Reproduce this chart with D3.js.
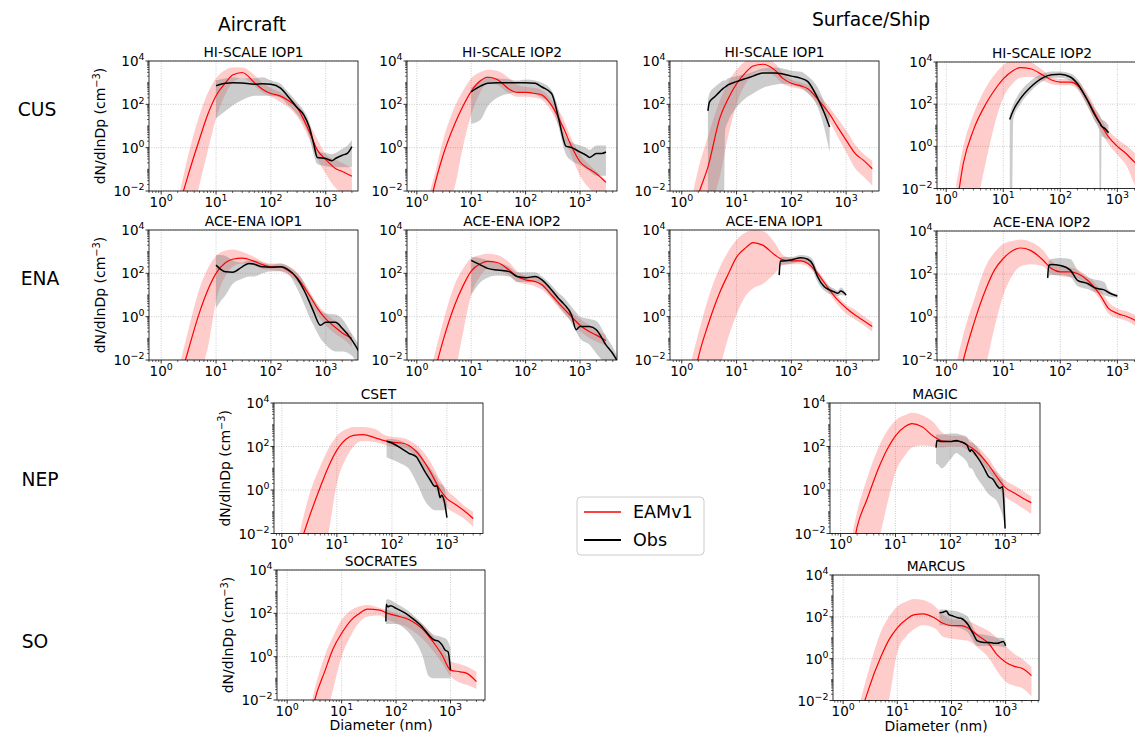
<!DOCTYPE html>
<html>
<head>
<meta charset="utf-8">
<script src="https://cdn.jsdelivr.net/npm/d3@7"></script>
<style>
  body { margin: 0; background: #fff; }
  svg { display: block; font-family: "DejaVu Sans", sans-serif; }
</style>
</head>
<body>
<svg id="chart" width="1135" height="737"></svg>
<script>
// model size grid (nm), shared by all EAMv1 curves
var modelDp = [1.5, 2, 3, 5, 7, 10, 15, 20, 30, 50, 70, 100, 150, 200, 300, 500, 700, 1000, 1500, 2000, 3000];

// ---- aircraft, HI-SCALE IOP1
var hsAir1ModelMed = [3.2e-5, 1e-3, 4e-2, 2.5, 32, 250, 1000, 2240, 2950, 1000, 500, 316, 240, 158, 71, 5.6, 0.79, 0.28, 0.11, 0.079, 0.048];
var hsAir1ModelLo = [1e-7, 1e-6, 1e-4, 2e-2, 0.63, 22, 316, 1000, 1580, 708, 355, 224, 126, 79, 28, 2.5, 0.32, 0.063, 0.014, 0.0079, 0.005];
var hsAir1ModelHi = [6.3e-4, 4e-3, 0.32, 32, 316, 1580, 3980, 5010, 5010, 2240, 1000, 562, 355, 224, 100, 12.6, 2.5, 0.5, 0.28, 0.2, 0.107];
var hsAir1ObsDp = [10, 15, 20, 30, 50, 70, 100, 150, 200, 300, 400, 500, 600, 700, 1000, 1300, 1500, 2000, 2500, 3000];
var hsAir1ObsMed = [724, 933, 1000, 955, 851, 891, 851, 562, 251, 71, 32, 8.9, 1.6, 0.355, 0.316, 0.25, 0.316, 0.447, 0.562, 1.12];
var hsAir1ObsHi = [1260, 1580, 1780, 1580, 1580, 1780, 1260, 891, 398, 126, 50, 15.8, 2.5, 0.71, 0.56, 0.5, 0.56, 0.89, 1.26, 2.24];
var hsAir1ObsLo = [22, 50, 89, 158, 251, 251, 251, 200, 100, 35, 12.6, 3.16, 0.5, 0.178, 0.141, 0.126, 0.126, 0.126, 0.126, 0.126];

// ---- aircraft, HI-SCALE IOP2
var hsAir2ModelMed = [3.2e-4, 1e-2, 0.4, 12.6, 79, 398, 1260, 1780, 1410, 501, 355, 355, 316, 269, 89, 7.9, 1.12, 0.224, 0.1, 0.063, 0.025];
var hsAir2ModelLo = [1e-6, 1e-4, 1e-3, 1.6e-2, 1, 32, 398, 1000, 794, 316, 224, 224, 200, 158, 45, 3.16, 0.4, 0.05, 0.0126, 0.0063, 0.0032];
var hsAir2ModelHi = [3.2e-3, 3.2e-2, 2.0, 79, 398, 1580, 3160, 3980, 3550, 1580, 794, 631, 562, 447, 158, 20, 2.5, 0.5, 0.158, 0.079, 0.032];
var hsAir2ObsDp = [10, 15, 20, 30, 50, 70, 100, 150, 200, 300, 400, 500, 550, 700, 1000, 1300, 1500, 2000, 2500, 3000];
var hsAir2ObsMed = [380, 708, 933, 1000, 1000, 1000, 1000, 933, 631, 316, 25, 2.24, 1.17, 1.0, 0.63, 0.447, 0.355, 0.537, 0.537, 0.63];
var hsAir2ObsHi = [562, 1410, 2000, 1580, 1410, 1260, 1410, 1260, 1000, 447, 63, 5.6, 3.16, 1.78, 1.26, 1.0, 0.79, 1.26, 1.26, 1.26];
var hsAir2ObsLo = [12.6, 20, 79, 200, 316, 355, 355, 282, 200, 79, 10, 1.0, 0.5, 0.251, 0.158, 0.1, 0.079, 0.05, 0.05, 0.05];

// ---- surface, HI-SCALE IOP1
var hsSfc1ModelMed = [3.2e-4, 6.3e-3, 0.126, 25, 178, 891, 3160, 5890, 7080, 3800, 1580, 933, 708, 525, 178, 35, 8.9, 2.24, 0.5, 0.28, 0.107];
var hsSfc1ModelLo = [1e-6, 1e-4, 1e-3, 5e-2, 3.16, 100, 1000, 2240, 3550, 2000, 891, 631, 501, 355, 100, 15.8, 3.16, 0.63, 0.1, 0.05, 0.0178];
var hsSfc1ModelHi = [4e-3, 0.1, 3.16, 158, 1000, 3980, 1e4, 1.26e4, 1.26e4, 7940, 2820, 1410, 1000, 794, 316, 71, 22, 6.3, 1.26, 0.56, 0.25];
var hsSfc1ObsDp = [3, 3.2, 4, 5, 5.8, 6.2, 7, 10, 15, 20, 30, 50, 70, 100, 150, 200, 300, 400, 500];
var hsSfc1ObsMed = [50, 126, 224, 398, 562, 631, 794, 1120, 1580, 2000, 2820, 2820, 2510, 2000, 1580, 1120, 200, 40, 8.9];
var hsSfc1ObsHi = [158, 316, 631, 1000, 1260, 1260, 1580, 2000, 2510, 3160, 4470, 5010, 4470, 3550, 3160, 2000, 631, 126, 32];
var hsSfc1ObsLo = [1e-4, 1e-4, 1e-4, 1e-4, 1e-4, 6.3, 15.8, 71, 200, 316, 562, 794, 891, 794, 562, 316, 79, 7.9, 0.63];

// ---- surface, HI-SCALE IOP2
var hsSfc2ModelMed = [1e-3, 0.158, 5.9, 107, 457, 1580, 3980, 5370, 4790, 2340, 1410, 1120, 1120, 794, 158, 12.6, 2.82, 1.0, 0.4, 0.178, 0.079];
var hsSfc2ModelLo = [1e-6, 1e-5, 3.2e-4, 0.2, 10, 200, 1000, 1780, 2000, 1260, 891, 794, 794, 501, 79, 5.6, 1.26, 0.4, 0.1, 0.0158, 0.0032];
var hsSfc2ModelHi = [1.6e-2, 1, 32, 631, 2510, 7080, 1.26e4, 1.26e4, 1e4, 3980, 2000, 1580, 1580, 1260, 316, 25, 5.6, 2.24, 1.0, 0.5, 0.158];
var hsSfc2ObsDp = [13, 14, 15, 20, 30, 50, 70, 100, 150, 200, 300, 400, 480, 495, 515, 530, 600, 700];
var hsSfc2ObsMed = [18.6, 32, 50, 182, 631, 1820, 2510, 2630, 1950, 933, 151, 32, 14.1, 12.6, 10, 9, 7.1, 4.37];
var hsSfc2ObsHi = [32, 63, 100, 398, 1260, 2820, 3550, 3550, 2820, 1580, 251, 63, 32, 28, 22, 20, 15.8, 10];
var hsSfc2ObsLo = [1e-4, 1e-4, 20, 100, 398, 1260, 1780, 1780, 1260, 562, 79, 15.8, 6, 1e-4, 1e-4, 3, 2.5, 2.0];

// ---- aircraft, ACE-ENA IOP1
var enaAir1ModelMed = [1e-5, 5e-4, 2e-2, 1.58, 15.8, 100, 316, 447, 501, 355, 251, 200, 200, 141, 63, 10, 2.5, 0.79, 0.316, 0.178, 0.1];
var enaAir1ModelLo = [1e-7, 1e-6, 1e-4, 2.5e-3, 3.2e-2, 5, 79, 200, 282, 224, 158, 141, 126, 89, 40, 5.6, 1.26, 0.4, 0.158, 0.1, 0.04];
var enaAir1ModelHi = [1e-4, 2.5e-3, 0.158, 20, 158, 631, 1120, 1260, 1000, 562, 355, 282, 282, 224, 112, 15.8, 3.98, 1.41, 0.63, 0.316, 0.158];
var enaAir1ObsDp = [10, 12, 15, 20, 30, 40, 50, 70, 100, 150, 200, 300, 400, 500, 600, 800, 1000, 1500, 2000, 3000, 4000, 5000];
var enaAir1ObsMed = [240, 158, 117, 112, 200, 288, 263, 200, 191, 200, 158, 59, 17, 5, 1.7, 0.4, 0.55, 0.55, 0.29, 0.083, 0.025, 0.0079];
var enaAir1ObsHi = [708, 708, 631, 398, 316, 398, 398, 316, 251, 282, 224, 100, 40, 12.6, 6.3, 2.0, 1.41, 1.26, 0.79, 0.158, 0.05, 0.0158];
var enaAir1ObsLo = [2.5, 5, 10, 32, 56, 71, 71, 100, 126, 126, 100, 20, 3.98, 1.0, 0.4, 0.1, 0.05, 0.025, 0.025, 0.0158, 0.005, 0.0032];

// ---- aircraft, ACE-ENA IOP2
var enaAir2ModelMed = [1e-4, 1.6e-3, 7.1e-2, 3.55, 25, 126, 282, 355, 316, 141, 71, 50, 41.7, 30, 10, 2.4, 1.0, 0.4, 0.2, 0.141, 0.079];
var enaAir2ModelLo = [1e-7, 1e-6, 1e-4, 2.5e-3, 0.158, 10, 79, 158, 141, 79, 40, 32, 25, 17.8, 6.3, 1.41, 0.63, 0.224, 0.1, 0.071, 0.045];
var enaAir2ModelHi = [6.3e-4, 1e-2, 0.5, 32, 158, 501, 708, 794, 708, 316, 126, 79, 71, 56, 20, 3.98, 1.58, 0.79, 0.4, 0.25, 0.141];
var enaAir2ObsDp = [10, 15, 20, 30, 50, 70, 100, 150, 200, 300, 400, 500, 700, 850, 1000, 1500, 2000, 3000, 4000, 5000];
var enaAir2ObsMed = [398, 240, 170, 141, 120, 71, 63, 71, 50, 17, 7.1, 4, 1.2, 0.25, 0.355, 0.355, 0.25, 0.05, 0.02, 0.0079];
var enaAir2ObsHi = [562, 501, 398, 316, 200, 112, 112, 112, 71, 28, 12.6, 7.9, 2.82, 1.58, 1.0, 0.79, 0.63, 0.126, 0.04, 0.0126];
var enaAir2ObsLo = [10, 40, 63, 79, 71, 40, 40, 40, 25, 7.9, 3.16, 1.58, 0.5, 0.2, 0.1, 0.05, 0.02, 0.0063, 0.004, 0.0032];

// ---- surface, ACE-ENA IOP1
var enaSfc1ModelMed = [3.2e-4, 1.26e-2, 0.4, 14.1, 89, 562, 1580, 2630, 2000, 708, 417, 372, 372, 282, 100, 17, 5.9, 2.5, 1.12, 0.71, 0.355];
var enaSfc1ModelLo = [1e-7, 1e-6, 3.2e-4, 5e-3, 0.1, 1.26, 10, 20, 32, 100, 240, 263, 263, 200, 71, 11.2, 3.55, 1.41, 0.71, 0.447, 0.2];
var enaSfc1ModelHi = [1e-2, 0.158, 6.3, 200, 1000, 3550, 7940, 1e4, 8910, 2510, 708, 525, 525, 398, 141, 25, 8.9, 3.55, 2.0, 1.12, 0.56];
var enaSfc1ObsDp = [60, 63, 70, 100, 150, 200, 250, 300, 400, 500, 600, 700, 800, 1000];
var enaSfc1ObsMed = [83, 372, 372, 417, 525, 447, 240, 71, 24, 17, 14.1, 12, 15.1, 10];
var enaSfc1ObsHi = [158, 562, 562, 562, 708, 631, 398, 126, 40, 25, 20, 15.8, 22, 11.2];
var enaSfc1ObsLo = [63, 251, 251, 282, 355, 282, 126, 40, 15.8, 11.2, 10, 8.9, 10, 8.9];

// ---- surface, ACE-ENA IOP2
var enaSfc2ModelMed = [3.2e-4, 1e-2, 0.43, 21, 151, 525, 1260, 1620, 1260, 437, 178, 126, 126, 105, 51, 10.5, 2.5, 1.48, 1.02, 0.72, 0.316];
var enaSfc2ModelLo = [1e-7, 1e-6, 3.2e-4, 6.3e-3, 0.316, 10, 100, 224, 282, 224, 100, 79, 71, 63, 32, 6.3, 1.41, 0.89, 0.63, 0.4, 0.158];
var enaSfc2ModelHi = [6.3e-3, 0.158, 5, 251, 1000, 2510, 3550, 3980, 3160, 1260, 398, 224, 200, 158, 79, 20, 5, 2.5, 1.78, 1.26, 0.5];
var enaSfc2ObsDp = [60, 63, 70, 100, 150, 200, 300, 400, 500, 600, 700, 1000];
var enaSfc2ObsMed = [66, 251, 275, 251, 151, 51, 36, 23, 20, 17.8, 13.8, 9.5];
var enaSfc2ObsHi = [126, 398, 501, 562, 501, 158, 71, 56, 50, 40, 17.8, 11.2];
var enaSfc2ObsLo = [50, 79, 89, 89, 71, 28, 20, 14.1, 12.6, 10, 8.9, 7.9];

// ---- aircraft, CSET
var csetModelMed = [1e-4, 1.6e-3, 4e-2, 1.38, 11.5, 68, 229, 324, 355, 251, 191, 158, 145, 115, 47, 6.8, 1.38, 0.4, 0.2, 0.117, 0.049];
var csetModelLo = [1e-7, 1e-6, 1e-5, 3.2e-4, 1e-2, 2, 32, 100, 178, 158, 126, 100, 89, 71, 25, 3.16, 0.63, 0.158, 0.079, 0.05, 0.02];
var csetModelHi = [3.2e-4, 6.3e-3, 0.4, 12.6, 79, 316, 631, 794, 794, 631, 355, 282, 251, 200, 100, 20, 4, 1.0, 0.4, 0.2, 0.1];
var csetObsDp = [80, 100, 150, 200, 280, 300, 400, 500, 600, 650, 700, 750, 800, 900, 1000];
var csetObsMed = [174, 145, 79, 50, 33, 25, 6.8, 2.82, 1.48, 1.58, 0.98, 0.447, 0.575, 0.28, 0.054];
var csetObsHi = [224, 224, 178, 112, 71, 63, 20, 10, 5, 3.98, 2.5, 2.0, 1.78, 1.26, 0.25];
var csetObsLo = [32, 25, 15.8, 10, 2.24, 1.58, 0.316, 0.158, 0.117, 0.117, 0.117, 0.117, 0.117, 0.117, 0.117];

// ---- ship, MAGIC
var magicModelMed = [3.2e-4, 2e-2, 0.347, 11.2, 71, 309, 832, 1120, 832, 288, 182, 170, 170, 120, 59, 14.1, 4.17, 1.32, 0.71, 0.457, 0.263];
var magicModelLo = [1e-7, 1e-6, 1e-4, 5e-3, 0.2, 6.3, 40, 89, 112, 100, 89, 100, 100, 71, 32, 7.1, 2.0, 0.5, 0.25, 0.158, 0.079];
var magicModelHi = [3.2e-3, 0.1, 3.16, 100, 501, 1580, 2820, 3550, 2820, 1260, 447, 316, 316, 251, 112, 28, 7.9, 2.82, 1.58, 1.0, 0.5];
var magicObsDp = [55, 57, 70, 100, 130, 150, 200, 230, 240, 300, 400, 500, 600, 700, 800, 900, 950, 1000];
var magicObsMed = [89, 191, 170, 170, 191, 170, 120, 59, 71, 37, 12, 4.17, 3.16, 1.7, 1.2, 1.41, 0.24, 0.017];
var magicObsHi = [316, 355, 355, 398, 398, 355, 282, 158, 158, 100, 32, 12.6, 8.9, 6.3, 4, 3.16, 1.58, 0.316];
var magicObsLo = [15.8, 15.8, 10, 25, 50, 40, 20, 10, 10, 4, 1.41, 0.63, 0.447, 0.316, 0.158, 0.063, 0.032, 0.0158];

// ---- aircraft, SOCRATES
var socratesModelMed = [1e-7, 1e-5, 5e-3, 0.24, 2.4, 12, 49, 89, 158, 141, 100, 78, 59, 42, 20, 4.17, 1.2, 0.24, 0.2, 0.17, 0.071];
var socratesModelLo = [1e-9, 1e-8, 1e-6, 1e-3, 3.2e-2, 1, 10, 32, 71, 79, 50, 35, 25, 15.8, 7.1, 1.58, 0.5, 0.126, 0.063, 0.05, 0.032];
var socratesModelHi = [1e-6, 1e-4, 1.6e-2, 1.26, 8.9, 50, 141, 200, 240, 178, 141, 100, 79, 63, 32, 7.9, 2.5, 0.63, 0.447, 0.355, 0.2];
var socratesObsDp = [65, 66, 70, 80, 100, 150, 200, 300, 400, 500, 600, 700, 800, 900, 1000];
var socratesObsMed = [42, 263, 200, 224, 170, 100, 59, 24, 10, 5.9, 5.25, 3.47, 2.0, 1.7, 0.24];
var socratesObsHi = [251, 398, 447, 398, 282, 158, 89, 35, 15.8, 10, 8.9, 7.9, 7.1, 5, 2.5];
var socratesObsLo = [32, 32, 32, 32, 32, 17.8, 7.9, 1.26, 0.126, 0.1, 0.1, 0.1, 0.1, 0.1, 0.1];

// ---- ship, MARCUS
var marcusModelMed = [1e-5, 1e-3, 3.9e-2, 1.26, 7.9, 30, 79, 123, 138, 85, 49, 38, 38, 30, 13.5, 4.9, 1.51, 0.68, 0.417, 0.347, 0.155];
var marcusModelLo = [1e-8, 1e-7, 1e-5, 1e-3, 1e-2, 2, 12.6, 25, 40, 28, 11.2, 8.9, 7.9, 7.1, 3.55, 1, 0.25, 0.079, 0.05, 0.04, 0.0158];
var marcusModelHi = [3.2e-4, 6.3e-3, 0.316, 20, 100, 316, 562, 708, 631, 316, 126, 79, 71, 63, 40, 20, 10, 4, 1.58, 1.0, 0.4];
var marcusObsDp = [60, 70, 80, 90, 100, 130, 150, 200, 250, 300, 400, 500, 600, 700, 800, 900, 1000];
var marcusObsMed = [158, 166, 191, 126, 115, 91, 85, 44, 16.2, 7.1, 6.0, 6.0, 5.5, 5.5, 6.0, 6.6, 4.17];
var marcusObsHi = [224, 224, 224, 200, 200, 178, 158, 100, 32, 15.8, 14.1, 12.6, 11.2, 10, 10, 10, 6.3];
var marcusObsLo = [40, 40, 40, 35, 35, 32, 28, 17.8, 7.1, 4, 4, 4, 4, 4, 3.8, 3.55, 3.55];

var yTicks = [1e-2, 1, 1e2, 1e4];
var xTicks = [1, 10, 100, 1000];

// panel layout: box = [left, top, width, height]
var panels = [
    {title: 'HI-SCALE IOP1', box: [149, 61, 209, 130], xlim: [0.6, 3870], ylab: true,
     m: [hsAir1ModelMed, hsAir1ModelLo, hsAir1ModelHi], o: [hsAir1ObsDp, hsAir1ObsMed, hsAir1ObsLo, hsAir1ObsHi]},
    {title: 'HI-SCALE IOP2', box: [407, 61, 210, 130], xlim: [0.66, 4790],
     m: [hsAir2ModelMed, hsAir2ModelLo, hsAir2ModelHi], o: [hsAir2ObsDp, hsAir2ObsMed, hsAir2ObsLo, hsAir2ObsHi]},
    {title: 'HI-SCALE IOP1', box: [670, 61, 209, 130], xlim: [0.61, 3980],
     m: [hsSfc1ModelMed, hsSfc1ModelLo, hsSfc1ModelHi], o: [hsSfc1ObsDp, hsSfc1ObsMed, hsSfc1ObsLo, hsSfc1ObsHi]},
    {title: 'HI-SCALE IOP2', box: [937, 62, 210, 126.5], xlim: [0.69, 3310],
     m: [hsSfc2ModelMed, hsSfc2ModelLo, hsSfc2ModelHi], o: [hsSfc2ObsDp, hsSfc2ObsMed, hsSfc2ObsLo, hsSfc2ObsHi]},
    {title: 'ACE-ENA IOP1', box: [149, 230, 209, 130], xlim: [0.6, 3870], ylab: true,
     m: [enaAir1ModelMed, enaAir1ModelLo, enaAir1ModelHi], o: [enaAir1ObsDp, enaAir1ObsMed, enaAir1ObsLo, enaAir1ObsHi]},
    {title: 'ACE-ENA IOP2', box: [407, 230, 210, 130], xlim: [0.66, 4790],
     m: [enaAir2ModelMed, enaAir2ModelLo, enaAir2ModelHi], o: [enaAir2ObsDp, enaAir2ObsMed, enaAir2ObsLo, enaAir2ObsHi]},
    {title: 'ACE-ENA IOP1', box: [670, 230, 209, 130], xlim: [0.61, 3980],
     m: [enaSfc1ModelMed, enaSfc1ModelLo, enaSfc1ModelHi], o: [enaSfc1ObsDp, enaSfc1ObsMed, enaSfc1ObsLo, enaSfc1ObsHi]},
    {title: 'ACE-ENA IOP2', box: [937, 231, 210, 129], xlim: [0.69, 3310],
     m: [enaSfc2ModelMed, enaSfc2ModelLo, enaSfc2ModelHi], o: [enaSfc2ObsDp, enaSfc2ObsMed, enaSfc2ObsLo, enaSfc2ObsHi]},
    {title: 'CSET', box: [274, 403, 209, 130.5], xlim: [0.72, 4520], ylab: true,
     m: [csetModelMed, csetModelLo, csetModelHi], o: [csetObsDp, csetObsMed, csetObsLo, csetObsHi]},
    {title: 'MAGIC', box: [830, 403, 210, 130.5], xlim: [0.64, 4330],
     m: [magicModelMed, magicModelLo, magicModelHi], o: [magicObsDp, magicObsMed, magicObsLo, magicObsHi]},
    {title: 'SOCRATES', box: [277, 570, 208, 130], xlim: [0.65, 4300], ylab: true, xlab: true,
     m: [socratesModelMed, socratesModelLo, socratesModelHi], o: [socratesObsDp, socratesObsMed, socratesObsLo, socratesObsHi]},
    {title: 'MARCUS', box: [833, 575, 206, 125.5], xlim: [0.65, 4130], xlab: true,
     m: [marcusModelMed, marcusModelLo, marcusModelHi], o: [marcusObsDp, marcusObsMed, marcusObsLo, marcusObsHi]}
];

var svg = d3.select('#chart');
var defs = svg.append('defs');
var TICK_FONT = 13.5;

// "10" with a raised exponent, like matplotlib's log tick labels
function powText(sel, exp, size) {
    sel.append('tspan').text('10');
    sel.append('tspan')
        .attr('dy', -size * 0.42)
        .attr('font-size', size * 0.7)
        .text(exp < 0 ? '\u2212' + (-exp) : String(exp));
}

function minorValues(lo, hi, withDecades) {
    var out = [];
    for (var k = -3; k <= 4; k++) {
        for (var m = 2; m <= 9; m++) {
            var v = m * Math.pow(10, k);
            if (v > lo && v < hi) out.push(v);
        }
        if (withDecades) {
            var d = Math.pow(10, k);
            if (d > lo && d < hi && yTicks.indexOf(d) < 0) out.push(d);
        }
    }
    return out;
}

panels.forEach(function(p, i) {
    var x0 = p.box[0], y0 = p.box[1], w = p.box[2], h = p.box[3];
    var xs = d3.scaleLog().domain(p.xlim).range([0, w]);
    var ys = d3.scaleLog().domain([1e-2, 1e4]).range([h, 0]);

    defs.append('clipPath').attr('id', 'clip' + i)
        .append('rect').attr('width', w).attr('height', h);

    var g = svg.append('g').attr('transform', 'translate(' + x0 + ',' + y0 + ')');

    // dotted grid at the labelled decades
    var grid = g.append('g').attr('stroke', '#b0b0b0').attr('stroke-width', 0.8)
        .attr('stroke-dasharray', '0.8,1.6');
    xTicks.forEach(function(v) {
        grid.append('line').attr('x1', xs(v)).attr('x2', xs(v)).attr('y1', 0).attr('y2', h);
    });
    yTicks.forEach(function(v) {
        grid.append('line').attr('x1', 0).attr('x2', w).attr('y1', ys(v)).attr('y2', ys(v));
    });

    var plot = g.append('g').attr('clip-path', 'url(#clip' + i + ')');

    var modelRows = modelDp.map(function(dp, j) { return [dp, p.m[0][j], p.m[1][j], p.m[2][j]]; });
    var obsRows = p.o[0].map(function(dp, j) { return [dp, p.o[1][j], p.o[2][j], p.o[3][j]]; });

    var band = d3.area()
        .x(function(d) { return xs(d[0]); })
        .y0(function(d) { return ys(d[2]); })
        .y1(function(d) { return ys(d[3]); })
        .curve(d3.curveMonotoneX);
    var mid = d3.line()
        .x(function(d) { return xs(d[0]); })
        .y(function(d) { return ys(d[1]); })
        .curve(d3.curveMonotoneX);

    plot.append('path').attr('d', band(modelRows)).attr('fill', 'red').attr('fill-opacity', 0.2);
    plot.append('path').attr('d', band(obsRows)).attr('fill', 'gray').attr('fill-opacity', 0.4);
    plot.append('path').attr('d', mid(modelRows)).attr('fill', 'none')
        .attr('stroke', 'red').attr('stroke-width', 1.2);
    plot.append('path').attr('d', mid(obsRows)).attr('fill', 'none')
        .attr('stroke', '#000').attr('stroke-width', 1.5);

    // ticks
    var ticks = g.append('g').attr('stroke', '#000');
    xTicks.forEach(function(v) {
        ticks.append('line').attr('x1', xs(v)).attr('x2', xs(v)).attr('y1', h).attr('y2', h + 3.5)
            .attr('stroke-width', 0.8);
    });
    minorValues(p.xlim[0], p.xlim[1], false).forEach(function(v) {
        ticks.append('line').attr('x1', xs(v)).attr('x2', xs(v)).attr('y1', h).attr('y2', h + 2)
            .attr('stroke-width', 0.6);
    });
    yTicks.forEach(function(v) {
        ticks.append('line').attr('x1', -3.5).attr('x2', 0).attr('y1', ys(v)).attr('y2', ys(v))
            .attr('stroke-width', 0.8);
    });
    minorValues(1e-2, 1e4, true).forEach(function(v) {
        ticks.append('line').attr('x1', -2).attr('x2', 0).attr('y1', ys(v)).attr('y2', ys(v))
            .attr('stroke-width', 0.6);
    });

    // spines
    g.append('rect').attr('width', w).attr('height', h)
        .attr('fill', 'none').attr('stroke', '#000').attr('stroke-width', 0.8);

    // tick labels
    xTicks.forEach(function(v) {
        g.append('text').attr('x', xs(v)).attr('y', h + 15.5)
            .attr('text-anchor', 'middle').attr('font-size', TICK_FONT).attr('fill', '#000')
            .call(powText, Math.round(Math.log10(v)), TICK_FONT);
    });
    yTicks.forEach(function(v) {
        g.append('text').attr('x', -4.5).attr('y', ys(v) + 5)
            .attr('text-anchor', 'end').attr('font-size', TICK_FONT).attr('fill', '#000')
            .call(powText, Math.round(Math.log10(v)), TICK_FONT);
    });

    g.append('text').attr('x', w / 2).attr('y', -4.5)
        .attr('text-anchor', 'middle').attr('font-size', 13.8).attr('fill', '#000')
        .text(p.title);

    if (p.ylab) {
        var yl = g.append('text')
            .attr('transform', 'translate(' + (-44) + ',' + (h / 2) + ') rotate(-90)')
            .attr('text-anchor', 'middle').attr('font-size', 14).attr('fill', '#000');
        yl.append('tspan').text('dN/dlnDp (cm');
        yl.append('tspan').attr('dy', -5.5).attr('font-size', 9.8).text('\u22123');
        yl.append('tspan').attr('dy', 5.5).text(')');
    }
    if (p.xlab) {
        g.append('text').attr('x', w / 2).attr('y', h + 30)
            .attr('text-anchor', 'middle').attr('font-size', 14).attr('fill', '#000')
            .text('Diameter (nm)');
    }
});

// column and row headers
var headers = [
    {t: 'Aircraft', x: 252, y: 31},
    {t: 'Surface/Ship', x: 871, y: 26},
    {t: 'CUS', x: 37, y: 116},
    {t: 'ENA', x: 40, y: 285},
    {t: 'NEP', x: 40, y: 486},
    {t: 'SO', x: 35, y: 648}
];
headers.forEach(function(d) {
    svg.append('text').attr('x', d.x).attr('y', d.y).attr('text-anchor', 'middle')
        .attr('font-size', 18.7).attr('fill', '#000').text(d.t);
});

// legend
var leg = svg.append('g').attr('transform', 'translate(577,497)');
leg.append('rect').attr('width', 127).attr('height', 58).attr('rx', 4)
    .attr('fill', '#fff').attr('stroke', '#cccccc').attr('stroke-width', 1);
[{name: 'EAMv1', color: 'red', sw: 1.4, y: 15}, {name: 'Obs', color: '#000', sw: 1.8, y: 43}].forEach(function(d) {
    leg.append('line').attr('x1', 7).attr('x2', 44).attr('y1', d.y).attr('y2', d.y)
        .attr('stroke', d.color).attr('stroke-width', d.sw);
    leg.append('text').attr('x', 56).attr('y', d.y + 6.3).attr('font-size', 17.5).attr('fill', '#000')
        .text(d.name);
});
</script>
</body>
</html>
